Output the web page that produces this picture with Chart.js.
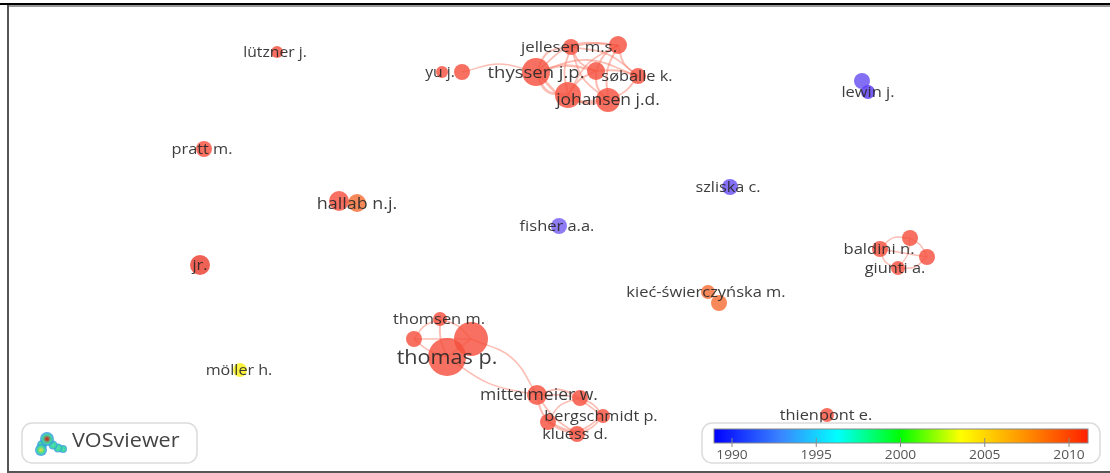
<!DOCTYPE html>
<html>
<head>
<meta charset="utf-8">
<title>VOSviewer overlay map</title>
<script src="https://cdn.jsdelivr.net/npm/chart.js@4"></script>
<style>
  html, body { margin: 0; padding: 0; background: #fff; overflow: hidden; }
  canvas { display: block; filter: blur(0.45px); }
</style>
</head>
<body>
<canvas id="map" width="1110" height="473"></canvas>
<script>
// nodes of the overlay map
const nodeX = [277, 442, 462, 536, 571, 618, 596, 638, 568, 608, 204, 339, 357, 200, 559, 730, 862, 868, 910, 927, 880, 898, 708, 719, 440, 414, 471, 447, 537, 580, 603, 548, 577, 827, 240];
const nodeY = [52, 72, 72, 72, 47, 45, 71, 76, 95, 100, 149, 201, 203, 265, 226, 187, 81, 92, 238, 257, 249, 268, 292, 303, 319, 339, 339, 357, 395, 398, 416, 422, 434, 415, 370];
const nodeWeight = [6, 6, 8, 14, 8, 9, 9, 8, 13, 12, 8, 10, 9, 10, 8, 8, 8, 7, 8, 8, 8, 7, 7, 8, 7, 8, 17, 19, 10, 8, 7, 8, 8, 7, 7];
const nodeYear = [2010, 2010, 2010, 2010, 2010, 2010, 2010, 2010, 2010, 2010, 2010, 2010, 2008, 2011, 1991, 1990, 1990, 1989, 2010, 2010, 2010, 2010, 2008, 2008, 2010, 2010, 2010, 2010, 2010, 2010, 2010, 2010, 2010, 2010, 2004];

// labels sit on the nodes, a little off centre
const labelText = ["lützner j.", "yu j.", "thyssen j.p.", "jellesen m.s.", "søballe k.", "johansen j.d.", "pratt m.", "hallab n.j.", "jr.", "fisher a.a.", "szliska c.", "lewin j.", "baldini n.", "giunti a.", "kieć-świerczyńska m.", "thomsen m.", "thomas p.", "mittelmeier w.", "bergschmidt p.", "kluess d.", "thienpont e.", "möller h."];
const labelX = [275, 440, 536, 569, 637, 608, 202, 357, 200, 557, 728, 868, 879, 895, 706, 439, 447, 539, 601, 575, 826, 239];
const labelY = [53, 73, 73, 48, 77, 101, 150, 204, 266, 227, 188, 93, 250, 269, 293, 320, 359, 396, 417, 435, 416, 371];
const labelSize = [14, 14, 16.5, 15, 14.6, 15.6, 14.6, 16, 14.6, 14.7, 14.5, 14.7, 14.8, 14.6, 14.7, 14.7, 19.3, 15.7, 14.5, 14.5, 14.6, 14.4];

// links between nodes: from, to, bend, width
const edgeFrom = [2, 3, 3, 3, 3, 3, 3, 4, 4, 4, 4, 4, 5, 5, 5, 5, 6, 6, 6, 7, 8, 11, 18, 18, 18, 19, 20, 20, 24, 24, 24, 25, 25, 26, 26, 27, 28, 28, 28, 28, 29, 29, 30, 31, 31];
const edgeTo = [3, 4, 5, 6, 7, 8, 9, 5, 6, 8, 9, 7, 6, 7, 8, 9, 7, 8, 9, 9, 9, 12, 19, 20, 21, 21, 21, 19, 25, 26, 27, 26, 27, 27, 28, 28, 29, 30, 31, 32, 30, 31, 32, 32, 30];
const edgeBend = [-8, -9, -14, -6, -14, 9, 14, -3, 5, 5, 8, -8, 4, 5, 8, 6, -3, 4, 5, -4, 6, 0, -3, 6, -4, -5, 5, 0, 4, -4, 3, 0, 3, 0, -12, 8, -7, -9, 2, 4, -3, 6, -3, 2, 12];
const edgeWidth = [1.3, 2, 1.8, 2.4, 1.8, 2.8, 2.6, 1.7, 1.9, 1.8, 1.8, 1.6, 2, 1.8, 1.7, 2, 2, 2, 2.2, 1.9, 2.8, 1.5, 1.5, 1.5, 1.2, 1.5, 1.5, 1.5, 1.6, 1.6, 2, 1.6, 1.6, 2, 1.6, 1.6, 1.8, 1.7, 2, 1.8, 1.7, 1.5, 1.7, 2.2, 1.7];

// legend
const colorBarYears = [1990, 1995, 2000, 2005, 2010];
const colorBarStops = [[0, "#0000ff"], [0.18, "#3a86ff"], [0.33, "#00ffff"], [0.5, "#00ff00"], [0.66, "#ffff00"], [0.8, "#ffa500"], [1, "#ff2000"]];
const yearColours = { 1989: "rgba(95,65,245,0.85)", 1990: "rgba(100,75,240,0.8)", 1991: "rgba(115,90,240,0.8)", 2004: "rgba(250,240,30,0.85)", 2008: "rgba(245,115,60,0.85)", 2010: "rgba(245,80,62,0.82)", 2011: "rgba(236,75,62,0.88)" };

const edgePoints = (a, b, bend) => {
  const dx = nodeX[b] - nodeX[a], dy = nodeY[b] - nodeY[a];
  const len = Math.hypot(dx, dy) || 1;
  return [
    { x: nodeX[a], y: nodeY[a] },
    { x: (nodeX[a] + nodeX[b]) / 2 - dy / len * bend, y: (nodeY[a] + nodeY[b]) / 2 + dx / len * bend },
    { x: nodeX[b], y: nodeY[b] },
  ];
};

const edgeDatasets = edgeFrom.map((a, i) => ({
  type: "line",
  data: edgePoints(a, edgeTo[i], edgeBend[i]),
  borderColor: "rgba(250,125,105,0.5)",
  borderWidth: edgeWidth[i],
  pointRadius: 0,
  tension: 0.4,
  order: 2,
}));

const nodeDataset = {
  type: "bubble",
  data: nodeX.map((x, i) => ({ x, y: nodeY[i], r: nodeWeight[i] })),
  backgroundColor: nodeYear.map((y) => yearColours[y]),
  borderWidth: 0,
  order: 1,
};

// stretched a bit wider than the font draws it, as in the source image
const drawWideText = (ctx, text, x, y) => {
  ctx.save();
  ctx.translate(x, y);
  ctx.scale(1.12, 1);
  ctx.fillText(text, 0, 0);
  ctx.restore();
};

// node labels, the page frame and the two legend boxes
const mapExtras = {
  id: "mapExtras",
  afterDatasetsDraw(chart) {
    const { ctx, scales } = chart;
    const px = (v) => scales.x.getPixelForValue(v);
    const py = (v) => scales.y.getPixelForValue(v);
    ctx.save();
    ctx.textAlign = "center";
    ctx.textBaseline = "middle";
    ctx.fillStyle = "rgba(40,40,40,0.9)";
    labelText.forEach((t, i) => {
      ctx.font = labelSize[i] + 'px "Open Sans"';
      drawWideText(ctx, t, px(labelX[i]), py(labelY[i]));
    });

    // frame
    ctx.fillStyle = "#000";
    ctx.fillRect(0, 3, 1110, 2);
    ctx.fillStyle = "#999";
    ctx.fillRect(8, 5, 1102, 2);
    ctx.fillStyle = "#555";
    ctx.fillRect(7, 5, 2, 467);
    ctx.fillRect(7, 471, 1103, 2);

    // logo box
    ctx.strokeStyle = "#dcdcdc";
    ctx.lineWidth = 1.5;
    ctx.fillStyle = "#fff";
    ctx.beginPath();
    ctx.roundRect(22, 423, 175, 40, 10);
    ctx.fill();
    ctx.stroke();
    const blobs = [[63, 449, 2, "#50e0b0"], [58, 448, 2.5, "#50e0b0"], [53, 445, 2.5, "#50e0b0"], [42, 445, 3, "#70e070"], [41, 450, 4, "#e8e030"], [47, 439, 5, "#e01010"]];
    blobs.forEach(([x, y, r, c]) => {
      const g = ctx.createRadialGradient(x, y, 0, x, y, r + 2);
      g.addColorStop(0, c);
      g.addColorStop(0.6, "#40d8a0");
      g.addColorStop(1, "rgba(50,140,240,0.8)");
      ctx.fillStyle = g;
      ctx.beginPath();
      ctx.arc(x, y, r + 2, 0, Math.PI * 2);
      ctx.fill();
    });
    ctx.fillStyle = "#444";
    ctx.font = '19.3px "Open Sans"';
    ctx.textAlign = "left";
    drawWideText(ctx, "VOSviewer", 72, 442);

    // colour bar
    ctx.strokeStyle = "#dcdcdc";
    ctx.fillStyle = "#fff";
    ctx.beginPath();
    ctx.roundRect(702, 423, 398, 40, 10);
    ctx.fill();
    ctx.stroke();
    const grad = ctx.createLinearGradient(714, 0, 1088, 0);
    colorBarStops.forEach(([p, c]) => grad.addColorStop(p, c));
    ctx.fillStyle = grad;
    ctx.fillRect(714, 429, 374, 14);
    ctx.strokeStyle = "#888";
    ctx.lineWidth = 1;
    ctx.strokeRect(714, 429, 374, 14);
    ctx.textAlign = "center";
    ctx.font = '12.3px "Open Sans"';
    colorBarYears.forEach((y) => {
      const x = 732 + (y - 1990) * 16.85;
      ctx.beginPath();
      ctx.moveTo(x, 438);
      ctx.lineTo(x, 447);
      ctx.stroke();
      ctx.fillStyle = "#555";
      drawWideText(ctx, String(y), x, 455);
    });
    ctx.restore();
  },
};

new Chart(document.getElementById("map").getContext("2d"), {
  data: { datasets: [...edgeDatasets, nodeDataset] },
  options: {
    responsive: false,
    animation: false,
    layout: { padding: 0, autoPadding: false },
    plugins: { legend: { display: false }, tooltip: { enabled: false } },
    scales: {
      x: { type: "linear", min: 0, max: 1110, display: false },
      y: { type: "linear", min: 0, max: 473, reverse: true, display: false },
    },
  },
  plugins: [mapExtras],
});
</script>
</body>
</html>
